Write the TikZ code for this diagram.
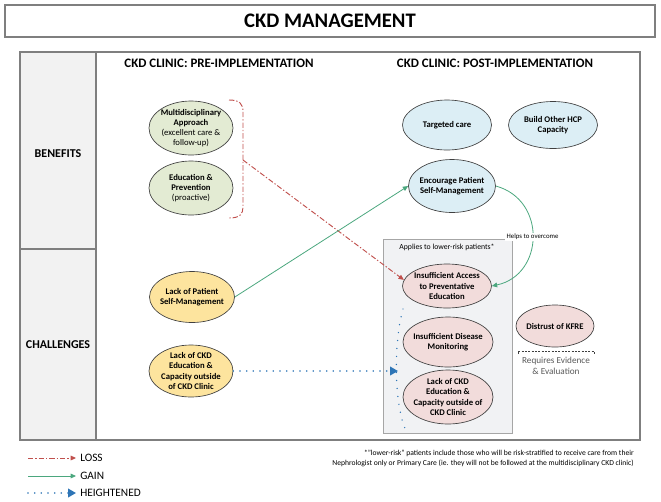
\documentclass[tikz,border=0pt]{standalone}
\usepackage{fontspec}
\setmainfont{Carlito}
\usetikzlibrary{shapes.geometric,arrows.meta}
\definecolor{framegray}{HTML}{7F7F7F}
\definecolor{colfill}{HTML}{F2F2F2}
\definecolor{boxfill}{HTML}{F1F2F4}
\definecolor{boxedge}{HTML}{A6A6A6}
\definecolor{greenfill}{HTML}{E3EBD3}
\definecolor{bluefill}{HTML}{DCEEF5}
\definecolor{pinkfill}{HTML}{F2DCDB}
\definecolor{yellowfill}{HTML}{FDE49E}
\definecolor{losscol}{HTML}{C0504D}
\definecolor{gaincol}{HTML}{4BA77E}
\definecolor{highcol}{HTML}{2E75B6}
\definecolor{edgecol}{HTML}{404040}
\definecolor{notecol}{HTML}{595959}
\begin{document}
\begin{tikzpicture}[x=0.75pt,y=-0.75pt,
  bubble/.style={ellipse, draw=edgecol, line width=0.5pt, inner xsep=-6pt, inner ysep=-6pt,
    align=center, font=\fontsize{6.5}{7.6}\selectfont\bfseries},
  greenb/.style={bubble, fill=greenfill},
  blueb/.style={bubble, fill=bluefill},
  pinkb/.style={bubble, fill=pinkfill},
  yellowb/.style={bubble, fill=yellowfill},
  sz/.style 2 args={minimum width=#1*0.75pt, minimum height=#2*0.75pt},
  header/.style={font=\fontsize{9}{11}\selectfont\bfseries, inner sep=0pt},
  lossline/.style={draw=losscol, line width=0.7pt, dash pattern=on 4pt off 1.5pt on 1pt off 1.5pt},
  lossarrow/.style={lossline, -{Triangle[length=4pt,width=3.5pt]}},
  gainarrow/.style={draw=gaincol, line width=0.6pt, -{Triangle[length=4pt,width=3.5pt]}},
  dotline/.style={draw=highcol, line width=1.3pt, line cap=round, dash pattern=on 0pt off 5pt},
  higharrow/.style={dotline, -{Triangle[length=6pt,width=6.5pt]}},
  legtext/.style={anchor=west, font=\fontsize{8.5}{10}\selectfont, inner sep=0pt},
  smalltext/.style={font=\fontsize{5.1}{6}\selectfont, inner sep=1pt}
]
\useasboundingbox (0,0) rectangle (661,501);

% title
\draw[framegray, line width=0.8pt] (5,5) rectangle (655,37);
\node[font=\fontsize{15.5}{18}\selectfont\bfseries] (title) at (330,21) {CKD MANAGEMENT};

% main frame
\fill[colfill] (20,52) rectangle (96,440);
\draw[framegray, line width=0.8pt] (20,52) rectangle (640,440);
\draw[framegray, line width=0.8pt] (96,52) -- (96,440);
\draw[framegray, line width=0.8pt] (20,249) -- (96,249);
\node[header] (benefits) at (58,154) {BENEFITS};
\node[header] (challenges) at (58,345) {CHALLENGES};
\node[header, font=\fontsize{9.7}{11}\selectfont\bfseries] (pre) at (219,63) {CKD CLINIC: PRE-IMPLEMENTATION};
\node[header, font=\fontsize{9.7}{11}\selectfont\bfseries] (post) at (495,63) {CKD CLINIC: POST-IMPLEMENTATION};

% lower-risk box
\draw[boxedge, fill=boxfill, line width=0.5pt] (383,239) rectangle (512,433);
\node[font=\fontsize{5.8}{7}\selectfont, inner sep=0pt] (applies) at (447,247) {Applies to lower-risk patients*};

% pre-implementation benefits
\node[greenb, sz={84}{54}] (multi) at (191,128) {Multidisciplinary\\Approach\\{\mdseries(excellent care \&}\\{\mdseries follow-up)}};
\node[greenb, sz={84}{54}] (edu) at (191,188) {Education \&\\Prevention\\{\mdseries(proactive)}};

% pre-implementation challenges
\node[yellowb, sz={85}{51}] (lps) at (192,297) {Lack of Patient\\Self-Management};
\node[yellowb, sz={84}{52}] (lcy) at (191,371) {Lack of CKD\\Education \&\\Capacity outside\\of CKD Clinic};

% post-implementation benefits
\node[blueb, sz={89}{50}] (tc) at (447,125) {Targeted care};
\node[blueb, sz={89}{47}] (hcp) at (553,125) {Build Other HCP\\Capacity};
\node[blueb, sz={87}{53}] (enc) at (452,186) {Encourage Patient\\Self-Management};

% post-implementation challenges
\node[pinkb, sz={89}{44}] (ia) at (447,286) {Insufficient Access\\to Preventative\\Education};
\node[pinkb, sz={90}{50}] (idm) at (448,342) {Insufficient Disease\\Monitoring};
\node[pinkb, sz={90}{54}] (lcp) at (448,397) {Lack of CKD\\Education \&\\Capacity outside of\\CKD Clinic};
\node[pinkb, sz={78}{42}] (kfre) at (555,326) {Distrust of KFRE};

% requires evidence bracket
\coordinate (rb1) at (518,354);
\coordinate (rb2) at (594,354);
\draw[edgecol, line width=0.5pt, dash pattern=on 1.5pt off 1pt] (rb1) -- ++(0,-3) -| (rb2);
\node[font=\fontsize{6.9}{8.2}\selectfont, text=notecol, align=center, inner sep=0pt] (req) at (556,365.5) {Requires Evidence\\\& Evaluation};

% loss bracket and arrow
\coordinate (lb) at (243,160);
\draw[lossline] (229,100) .. controls (240,100) and (243,104) .. (243,112) -- (243,207) .. controls (243,214) and (240,218) .. (229,218);
\draw[lossarrow] (lb) -- (ia.172);

% gain arrows
\draw[gainarrow] (lps.east) -- (enc.west);
\draw[gainarrow] (enc.east) .. controls (547,200) and (544,275) .. (ia.east)
  node[pos=0.5, fill=white, smalltext, text=black] (helps) {Helps to overcome};

% heightened
\coordinate (hv) at (398,371);
\draw[higharrow] (lcy.east) -- (hv);
\coordinate (hb1) at (403,309);
\coordinate (hb2) at (407,433);
\draw[dotline, line width=1.1pt, dash pattern=on 0pt off 6pt] (hb1) .. controls (394,340) and (393,405) .. (hb2);

% legend
\coordinate (l1a) at (28,458); \coordinate (l1b) at (76,458);
\coordinate (l2a) at (28,476); \coordinate (l2b) at (76,476);
\coordinate (l3a) at (28,493); \coordinate (l3b) at (76,493);
\draw[lossarrow] (l1a) -- (l1b);
\draw[gainarrow] (l2a) -- (l2b);
\draw[higharrow] (l3a) -- (l3b);
\node[legtext] (loss) at (80,458) {LOSS};
\node[legtext] (gain) at (80,476) {GAIN};
\node[legtext] (high) at (80,493) {HEIGHTENED};

% footnote
\node[anchor=north east, align=right, font=\fontsize{5.7}{7}\selectfont, inner sep=0pt] (note) at (634,450)
  {*"lower-risk" patients include those who will be risk-stratified to receive care from their\\Nephrologist only or Primary Care (ie. they will not be followed at the multidisciplinary CKD clinic)};
\end{tikzpicture}
\end{document}
